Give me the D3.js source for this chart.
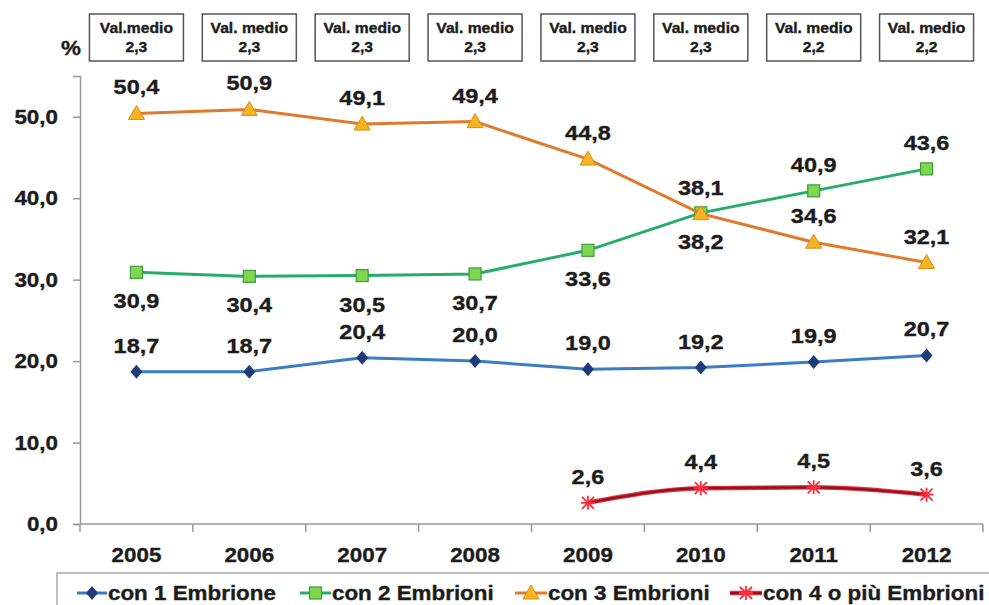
<!DOCTYPE html>
<html><head><meta charset="utf-8">
<script src="https://cdn.jsdelivr.net/npm/d3@7"></script>
<style>body{margin:0;background:#fff}svg{display:block;font-family:"Liberation Sans",Arial,sans-serif;font-weight:bold}</style>
</head><body><svg id="c" width="989" height="605"></svg>
<script>
const years = ["2005","2006","2007","2008","2009","2010","2011","2012"];
const boxLabels = ["Val.medio","Val. medio","Val. medio","Val. medio","Val. medio","Val. medio","Val. medio","Val. medio"];
const boxValues = ["2,3","2,3","2,3","2,3","2,3","2,3","2,2","2,2"];
const yTicks = [0,10,20,30,40,50];
const s1 = [18.7,18.7,20.4,20.0,19.0,19.2,19.9,20.7];
const s2 = [30.9,30.4,30.5,30.7,33.6,38.2,40.9,43.6];
const s3 = [50.4,50.9,49.1,49.4,44.8,38.1,34.6,32.1];
const s4 = [null,null,null,null,2.6,4.4,4.5,3.6];
const s1Pos = ["a","a","a","a","a","a","a","a"];
const s2Pos = ["b","b","b","b","b","b","a","a"];
const s3Pos = ["a","a","a","a","a","a","a","a"];
const s4Pos = ["a","a","a","a","a","a","a","a"];
const names = ["con 1 Embrione","con 2 Embrioni","con 3 Embrioni","con 4 o più Embrioni"];

const svg = d3.select("#c");
const SX = 1.12;
const ink = "#1c1c1c";
function txt(g, x, y, s, size, anchor){
  return g.append("text").attr("transform",`translate(${x},${y}) scale(${SX},1)`)
    .attr("text-anchor",anchor||"middle").attr("font-size",size).attr("fill",ink)
    .attr("stroke",ink).attr("stroke-width",0.35).text(s);
}
const x = d3.scaleBand().domain(years).range([80,983]);
const y = d3.scaleLinear().domain([0,55]).range([524,76]);
const cx = d => x(d)+x.bandwidth()/2;

// axes
const yAxis = d3.axisLeft(y).tickValues(yTicks).tickSize(7).tickFormat("");
const gy = svg.append("g").attr("transform","translate(80,0)").call(yAxis);
gy.select(".domain").attr("stroke","#9a9a9a").attr("stroke-width",1.5);
gy.selectAll(".tick line").attr("stroke","#9a9a9a").attr("stroke-width",1.5);
yTicks.forEach(t=>txt(svg,58,y(t)+7,d3.format(".1f")(t).replace(".",","),20,"end"));

const gx = svg.append("g").attr("transform","translate(0,524)");
gx.append("line").attr("x1",80).attr("x2",983).attr("stroke","#9a9a9a").attr("stroke-width",1.5);
gx.selectAll("line.t").data(years.concat(["end"])).join("line").attr("class","t")
  .attr("x1",(d,i)=>80+i*x.step()).attr("x2",(d,i)=>80+i*x.step()).attr("y1",0).attr("y2",8)
  .attr("stroke","#9a9a9a").attr("stroke-width",1.5);
years.forEach(yr=>txt(svg,cx(yr),562,yr,20));

// % and boxes
txt(svg,71,55,"%",20);
years.forEach((yr,i)=>{
  svg.append("rect").attr("x",cx(yr)-47).attr("y",14).attr("width",94).attr("height",47)
    .attr("fill","#fff").attr("stroke","#555").attr("stroke-width",1.5);
  txt(svg,cx(yr),33,boxLabels[i],14);
  txt(svg,cx(yr),52,boxValues[i],14);
});

// series
const series = [
  {v:s1,pos:s1Pos,line:"#3a7dc0",w:3,marker:"diamond",fill:"#1f3b78",stroke:"#1f3b78"},
  {v:s2,pos:s2Pos,line:"#26ad6b",w:3,marker:"square",fill:"#7fd64f",stroke:"#3e9c3e"},
  {v:s3,pos:s3Pos,line:"#e07a2c",w:3,marker:"triangle",fill:"#f6b421",stroke:"#db8c1c"},
  {v:s4,pos:s4Pos,line:"#8e1422",w:3,marker:"star",fill:"#ff2d3d",stroke:"#ff2d3d"}
];
function drawMarker(g, type, px, py, s){
  if(type==="diamond") g.append("path").attr("d",`M${px},${py-7}L${px+6},${py}L${px},${py+7}L${px-6},${py}Z`).attr("fill",s.fill);
  else if(type==="square") g.append("rect").attr("x",px-6).attr("y",py-6).attr("width",12).attr("height",12).attr("fill",s.fill).attr("stroke",s.stroke).attr("stroke-width",1.2);
  else if(type==="triangle") g.append("path").attr("d",`M${px},${py-8}L${px+8},${py+6}L${px-8},${py+6}Z`).attr("fill",s.fill).attr("stroke",s.stroke).attr("stroke-width",1);
  else {
    g.append("path").attr("d",`M${px-6},${py-6}L${px+6},${py+6}M${px-6},${py+6}L${px+6},${py-6}M${px},${py-7}L${px},${py+7}M${px-7},${py}L${px+7},${py}`)
      .attr("stroke",s.fill).attr("stroke-width",1.8).attr("fill","none");
  }
}
series.forEach((s,si)=>{
  const pts = years.map((yr,i)=>({yr,v:s.v[i],p:s.pos[i]}));
  const line = d3.line().defined(d=>d.v!==null).x(d=>cx(d.yr)).y(d=>y(d.v))
    .curve(si===3?d3.curveMonotoneX:d3.curveLinear);
  if(si===3) svg.append("path").datum(pts).attr("d",line).attr("fill","none").attr("stroke","#e8303e").attr("stroke-width",4.5);
  svg.append("path").datum(pts).attr("d",line).attr("fill","none").attr("stroke",s.line).attr("stroke-width",si===3?2.2:s.w);
  pts.filter(d=>d.v!==null).forEach(d=>{
    drawMarker(svg,s.marker,cx(d.yr),y(d.v),s);
  });
  pts.filter(d=>d.v!==null).forEach(d=>{
    const ly = d.p==="a" ? y(d.v)-19 : y(d.v)+36;
    txt(svg,cx(d.yr),ly,d3.format(".1f")(d.v).replace(".",","),21);
  });
});

// legend
const lg = svg.append("g");
lg.append("rect").attr("x",57).attr("y",573).attr("width",960).attr("height",60).attr("fill","#fff").attr("stroke","#aaa").attr("stroke-width",1.5);
const legX = [77,300,515,730];
const legT = [108,332,548,763];
series.forEach((s,i)=>{
  const x0 = legX[i], x1 = legT[i]-1;
  if(i===3) lg.append("line").attr("x1",x0).attr("x2",x1).attr("y1",593).attr("y2",593).attr("stroke","#e8303e").attr("stroke-width",4.5);
  lg.append("line").attr("x1",x0).attr("x2",x1).attr("y1",593).attr("y2",593).attr("stroke",s.line).attr("stroke-width",i===3?2.2:3);
  drawMarker(lg,s.marker,(x0+x1)/2,593,s);
  txt(lg,legT[i],600,names[i],20,"start");
});
</script></body></html>
